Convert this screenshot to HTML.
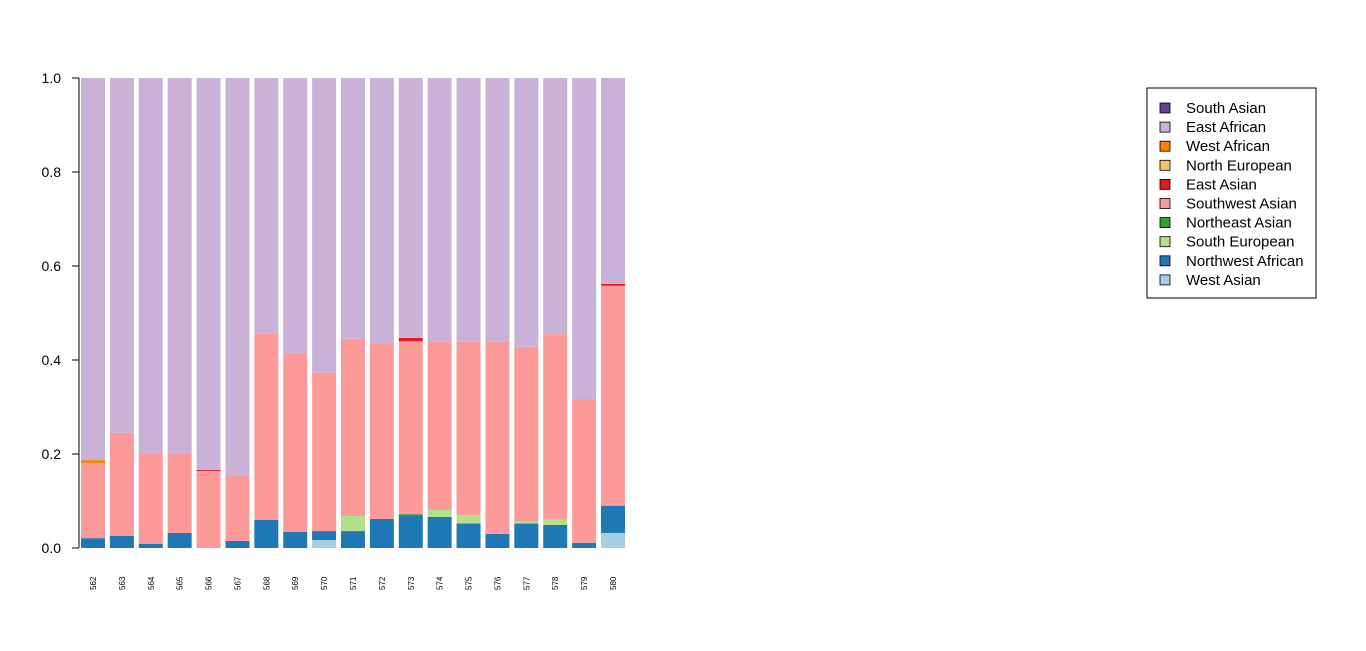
<!DOCTYPE html>
<html><head><meta charset="utf-8"><style>
body{margin:0;background:#fff;}
svg{display:block;font-family:"Liberation Sans",Arial,sans-serif;}
</style></head><body>
<svg id="chart" width="1366" height="651"></svg>
<script>
const categories=["562","563","564","565","566","567","568","569","570","571","572","573","574","575","576","577","578","579","580"];
const westAsian=[0,0,0,0,0,0,0,0,0.017,0,0,0,0,0,0,0,0,0,0.032];
const northwestAfrican=[0.021,0.026,0.009,0.032,0,0.015,0.06,0.034,0.019,0.036,0.062,0.07,0.066,0.052,0.03,0.052,0.049,0.011,0.058];
const southEuropean=[0,0,0,0,0,0,0,0,0,0.032,0,0,0.015,0.018,0,0.004,0.011,0,0];
const northeastAsian=[0,0,0,0,0,0,0,0,0,0,0,0.002,0,0,0,0,0,0,0];
const southwestAsian=[0.160,0.219,0.191,0.170,0.164,0.140,0.397,0.381,0.337,0.377,0.372,0.368,0.359,0.369,0.41,0.372,0.395,0.306,0.468];
const eastAsian=[0,0,0,0,0.002,0,0,0,0,0,0,0.007,0,0,0,0,0,0,0.004];
const northEuropean=[0,0,0,0,0,0,0,0,0,0,0,0,0,0,0,0,0,0,0];
const westAfrican=[0.006,0,0,0,0,0,0,0,0,0,0,0,0,0,0,0,0,0,0];
const eastAfrican=[0.813,0.755,0.8,0.798,0.834,0.845,0.543,0.585,0.627,0.555,0.566,0.553,0.56,0.561,0.56,0.572,0.545,0.683,0.438];
const southAsian=[0,0,0,0,0,0,0,0,0,0,0,0,0,0,0,0,0,0,0];
const yTicks=["0.0","0.2","0.4","0.6","0.8","1.0"];
const yTickVals=[0,0.2,0.4,0.6,0.8,1.0];

const series=[
 ["west-asian","West Asian","#A6CEE3",westAsian],
 ["northwest-african","Northwest African","#1F78B4",northwestAfrican],
 ["south-european","South European","#B2DF8A",southEuropean],
 ["northeast-asian","Northeast Asian","#33A02C",northeastAsian],
 ["southwest-asian","Southwest Asian","#FB9A99",southwestAsian],
 ["east-asian","East Asian","#E31A1C",eastAsian],
 ["north-european","North European","#FDBF6F",northEuropean],
 ["west-african","West African","#FF7F00",westAfrican],
 ["east-african","East African","#CAB2D6",eastAfrican],
 ["south-asian","South Asian","#6A3D9A",southAsian]
];
const NS="http://www.w3.org/2000/svg";
const svg=document.getElementById("chart");
function mk(t,a){const e=document.createElementNS(NS,t);for(const k in a)e.setAttribute(k,a[k]);return e;}
const y0=548,y1=78;
const yScale=v=>y0-(y0-y1)*v;
const xStart=81,step=(601-81)/18,bw=24;
const xScale=i=>xStart+i*step;

categories.forEach((c,i)=>{
 let cum=0;
 series.forEach(s=>{
  const v=s[3][i];
  if(v>0){
   const r=mk("rect",{x:xScale(i),y:yScale(cum+v),width:bw,height:yScale(cum)-yScale(cum+v),fill:s[2]});
   
   
   svg.appendChild(r);
  }
  cum+=v;
 });
 const t=mk("text",{x:0,y:0,"font-size":"8",transform:`translate(${xScale(i)+bw/2+3},590) rotate(-90)`});
 t.textContent=c;
 
 
 svg.appendChild(t);
});
const ax=mk("line",{x1:79,x2:79,y1:yScale(0),y2:yScale(1),stroke:"#000"});


svg.appendChild(ax);
yTickVals.forEach((v,i)=>{
 const l=mk("line",{x1:72,x2:79,y1:yScale(v),y2:yScale(v),stroke:"#000"});
 
 
 svg.appendChild(l);
 const t=mk("text",{x:61,y:yScale(v)+5,"font-size":"14","text-anchor":"end"});
 t.textContent=yTicks[i];
 
 
 svg.appendChild(t);
});
const lg=mk("rect",{x:1147,y:88,width:169,height:210,fill:"#fff",stroke:"#000"});


svg.appendChild(lg);
series.slice().reverse().forEach((s,i)=>{
 const yy=108+i*19.1;
 const r=mk("rect",{x:1160,y:yy-5,width:10,height:10,fill:s[2],stroke:"#000","stroke-width":0.8});
 
 
 svg.appendChild(r);
 const t=mk("text",{x:1186,y:yy+5,"font-size":"15"});
 t.textContent=s[1];
 
 
 svg.appendChild(t);
});
</script>
</body></html>
